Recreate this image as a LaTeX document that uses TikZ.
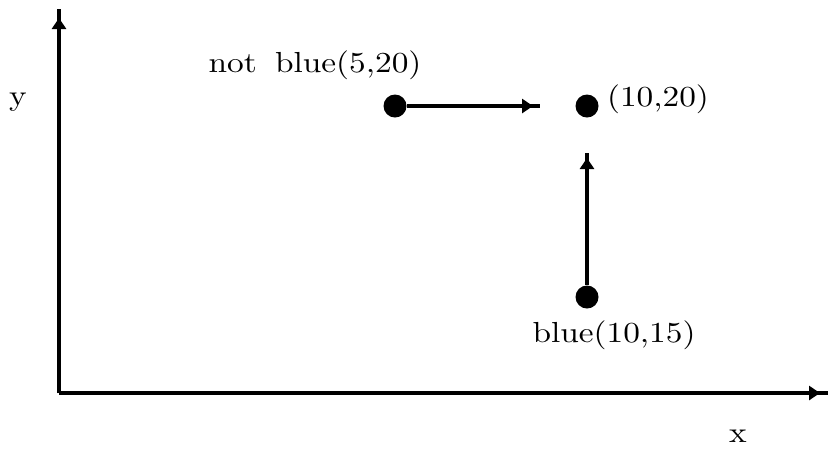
\documentclass[tikz,border=0pt]{standalone}
\usetikzlibrary{arrows.meta}
\newcommand\squash[1]{\scalebox{1}[0.87]{#1}}
\tikzset{
  dot/.style={circle,fill=black,inner sep=0pt,minimum size=6.9pt},
  lbl/.style={inner sep=0pt,anchor=base,font=\fontsize{10}{12}\selectfont},
  shaft/.style={line width=1.2pt},
  head/.style={line width=1.2pt,-{Triangle[length=3.3pt,width=4.2pt]}},
}
\begin{document}
\begin{tikzpicture}[x=0.3pt,y=-0.3pt]
\useasboundingbox (0,0) rectangle (828,451);

% axes
\coordinate (o) at (59,393);
\coordinate (xend) at (828,393);
\coordinate (xtip) at (820,393);
\coordinate (yend) at (59,9);
\coordinate (ytip) at (59,18);
\draw[shaft] (o) -- (xend);
\draw[head] (o) -- (xtip);
\draw[shaft] (o) -- (yend);
\draw[head] (o) -- (ytip);
\node[lbl] (ylabel) at (18,105) {\squash{y}};
\node[lbl] (xlabel) at (738,442) {\squash{x}};

% points
\node[dot] (nb) at (395,106) {};
\node[dot] (t) at (587,106) {};
\node[dot] (b) at (587,297) {};

\node[lbl] (nblabel) at (315,72) {\squash{not\hspace{5.5pt}blue(5,20)}};
\node[lbl] (tlabel) at (658,106) {\squash{(10,20)}};
\node[lbl] (blabel) at (614,342) {\squash{blue(10,15)}};

% moves
\coordinate (hend) at (540,106);
\coordinate (htip) at (533,106);
\draw[shaft] (nb) -- (hend);
\draw[head] (nb) -- (htip);

\coordinate (vend) at (587,153);
\coordinate (vtip) at (587,158);
\draw[shaft] (b) -- (vend);
\draw[head] (b) -- (vtip);
\end{tikzpicture}
\end{document}
